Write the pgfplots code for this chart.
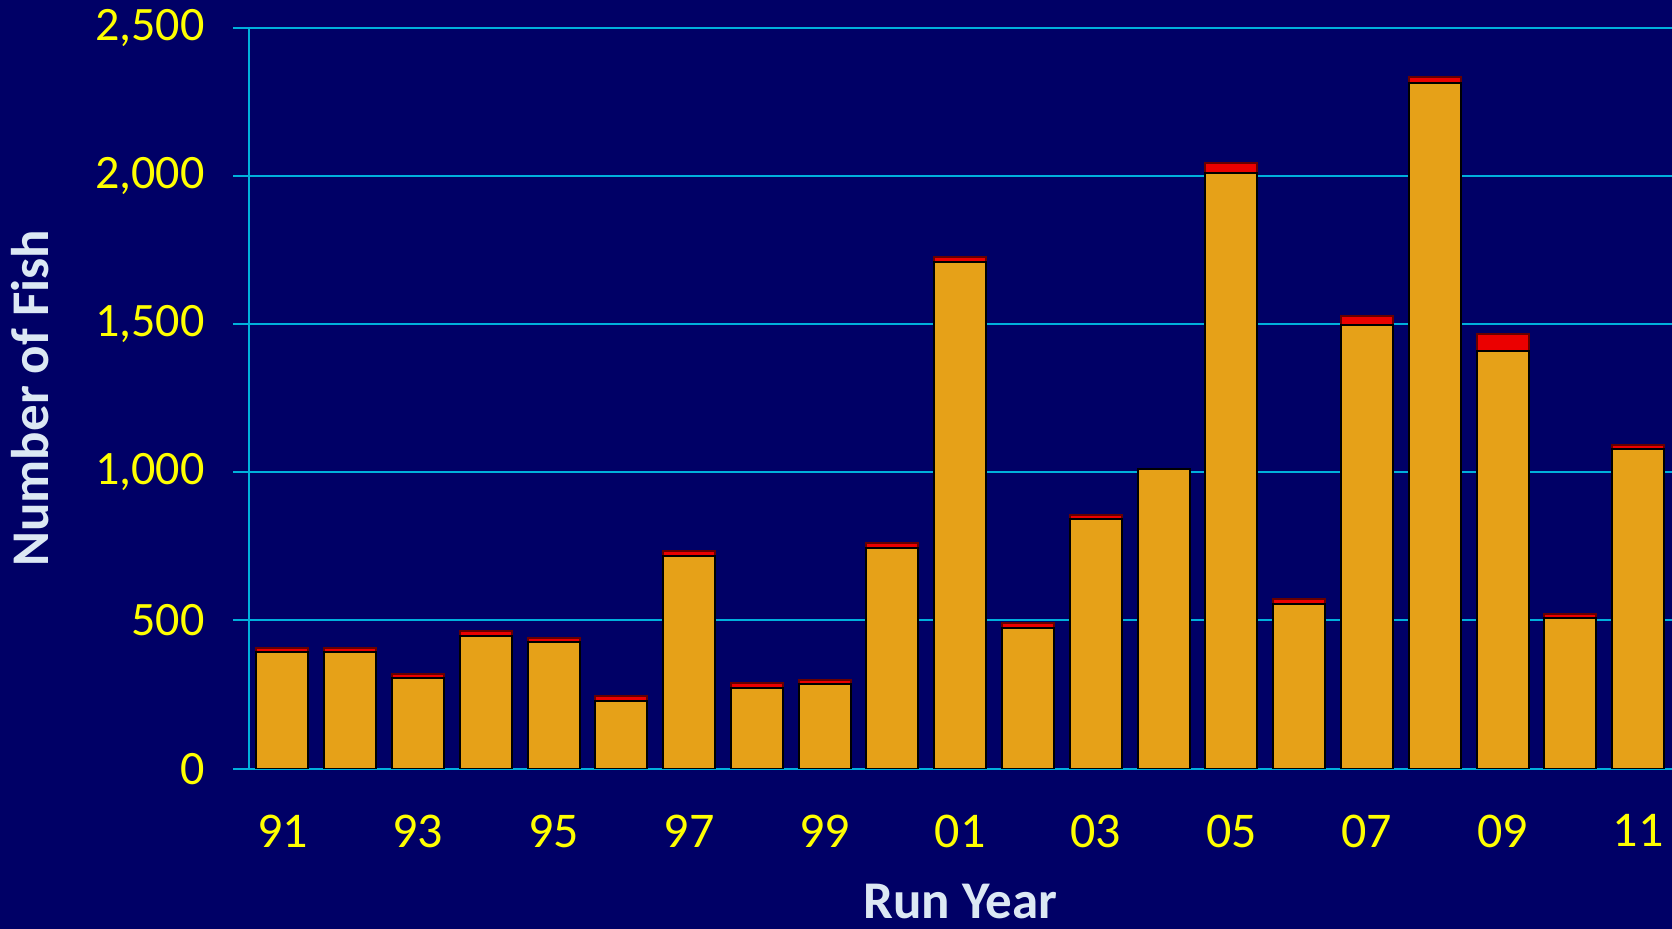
\documentclass[border=0pt]{standalone}
\usepackage{pgfplots}
\pgfplotsset{compat=1.18}
\usepackage{fontspec}
\setmainfont{Carlito}
\definecolor{bg}{RGB}{0,0,102}
\definecolor{gridc}{RGB}{0,176,220}
\definecolor{barorange}{RGB}{230,161,24}
\definecolor{barred}{RGB}{235,0,0}
\definecolor{ticky}{RGB}{255,255,0}
\definecolor{titlec}{RGB}{220,232,244}
\begin{document}
\begin{tikzpicture}
\fill[bg] (0,0) rectangle (836bp,464.5bp);
\useasboundingbox (0,0) rectangle (836bp,464.5bp);
\begin{axis}[
  at={(124.25bp,80.15bp)}, anchor=south west,
  width=711.75bp, height=370.5bp, scale only axis,
  ybar stacked, bar width=26bp,
  xmin=-0.5, xmax=20.5, ymin=0, ymax=2500,
  xtick={0,2,...,20},
  xticklabels={91,93,95,97,99,01,03,05,07,09,11},
  ytick={0,500,...,2500},
  axis x line=bottom, axis y line=left,
  axis line style={gridc, line width=1bp, -},
  ymajorgrids, grid style={gridc, line width=1bp},
  x tick style={draw=none},
  y tick style={gridc, line width=1bp},
  tick align=outside, major tick length=7.5bp,
  scaled y ticks=false,
  /pgf/number format/assume math mode=true,
  /pgf/number format/1000 sep={,},
  x tick label style={font=\fontsize{25bp}{30bp}\selectfont, text=ticky},
  y tick label style={font=\fontsize{24bp}{29bp}\selectfont, text=ticky},
  xticklabel shift=12bp,
  yticklabel shift=11bp,
  xlabel={Run Year}, ylabel={Number of Fish},
  every axis x label/.style={at={(rel axis cs:0.5,0)}, yshift=-66.65bp, anchor=center,
     font=\bfseries\fontsize{26.5bp}{31bp}\selectfont, text=titlec},
  every axis y label/.style={at={(rel axis cs:0,0.5)}, xshift=-109.25bp, rotate=90, anchor=center,
     font=\bfseries\fontsize{26.5bp}{31bp}\selectfont, text=titlec},
]
\addplot[fill=barorange, draw=black, line width=1bp] coordinates {
(0,394) (1,394) (2,305) (3,448) (4,427) (5,229) (6,717) (7,273) (8,285) (9,746)
(10,1711) (11,475) (12,841) (13,1010) (14,2009) (15,556) (16,1496) (17,2315) (18,1408) (19,507) (20,1078)};
\addplot[fill=barred, draw=black!60!red, line width=1bp] coordinates {
(0,14) (1,14) (2,14) (3,15) (4,15) (5,15) (6,16) (7,15) (8,15) (9,16)
(10,15) (11,16) (12,16) (13,0) (14,34) (15,17) (16,31) (17,19) (18,58) (19,15) (20,15)};
\end{axis}
\end{tikzpicture}
\end{document}
